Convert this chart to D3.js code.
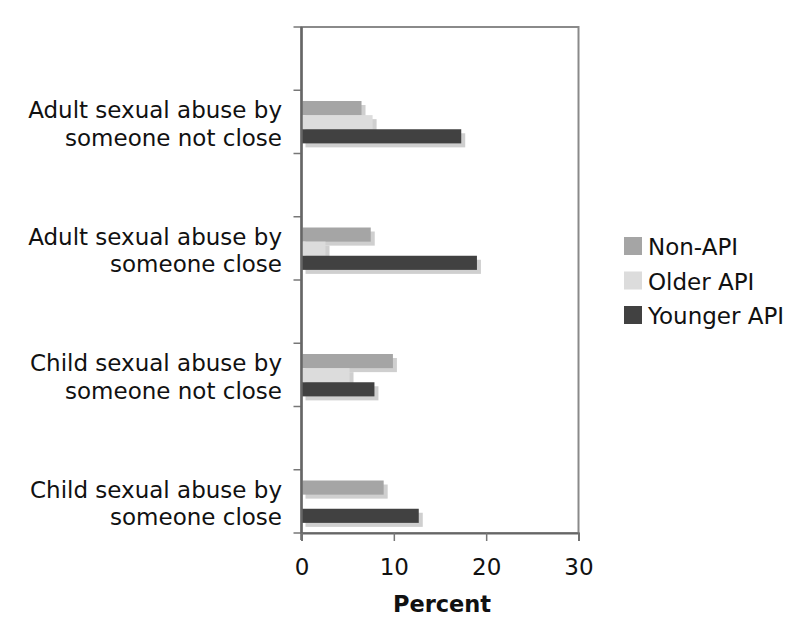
<!DOCTYPE html>
<html>
<head>
<meta charset="utf-8">
<script src="https://cdn.jsdelivr.net/npm/d3@7"></script>
<style>
  html, body { margin: 0; padding: 0; background: #fff; }
  svg text { font-family: Verdana, "DejaVu Sans", sans-serif; fill: #111; }
</style>
</head>
<body>
<svg id="chart" width="794" height="639"></svg>
<script>
// Categories, top to bottom
const categories = [
  ["Adult sexual abuse by", "someone not close"],
  ["Adult sexual abuse by", "someone close"],
  ["Child sexual abuse by", "someone not close"],
  ["Child sexual abuse by", "someone close"]
];
const series = ["Non-API", "Older API", "Younger API"];
const nonAPI     = [6.5, 7.5, 9.9, 8.9];
const olderAPI   = [7.7, 2.6, 5.2, 0];
const youngerAPI = [17.3, 19.0, 7.9, 12.7];
const xTicks = [0, 10, 20, 30];
const colors = ["#a5a5a5", "#dcdcdc", "#414141"];
const shadowColor = "#cfcfcf";

const values = [nonAPI, olderAPI, youngerAPI];
const catKeys = categories.map(c => c.join(" "));

const svg = d3.select("#chart");
const plot = { left: 301.5, right: 578.5, top: 27, bottom: 533 };
const fontSize = 23;

const x = d3.scaleLinear().domain([0, 30]).range([plot.left, plot.right]);
const y = d3.scaleBand().domain(catKeys).range([plot.top, plot.bottom]).padding(0);
const bw = y.bandwidth();
const yInner = d3.scaleBand().domain(series).range([bw * 0.585, bw * 0.92]).padding(0);

// Frame
svg.append("rect")
  .attr("x", plot.left).attr("y", plot.top)
  .attr("width", plot.right - plot.left).attr("height", plot.bottom - plot.top)
  .attr("fill", "none").attr("stroke", "#8a8a8a").attr("stroke-width", 2);

// Bars with drop shadows
const rows = [];
catKeys.forEach((c, i) => series.forEach((s, j) => rows.push({ c, s, v: values[j][i], j })));

const g = svg.append("g");
g.selectAll("rect.shadow").data(rows.filter(d => d.v > 0)).join("rect")
  .attr("class", "shadow")
  .attr("x", x(0) + 4)
  .attr("y", d => y(d.c) + yInner(d.s) + 4)
  .attr("width", d => x(d.v) - x(0))
  .attr("height", yInner.bandwidth())
  .attr("fill", shadowColor);
g.selectAll("rect.bar").data(rows.filter(d => d.v > 0)).join("rect")
  .attr("class", "bar")
  .attr("x", x(0))
  .attr("y", d => y(d.c) + yInner(d.s))
  .attr("width", d => x(d.v) - x(0))
  .attr("height", yInner.bandwidth())
  .attr("fill", d => colors[d.j]);

// Left axis: ticks at category edges and midpoints
const yTickPos = [];
catKeys.forEach(c => { yTickPos.push(y(c)); yTickPos.push(y(c) + bw / 2); });
yTickPos.push(plot.bottom);
svg.append("g").selectAll("line").data(yTickPos).join("line")
  .attr("x1", plot.left - 8).attr("x2", plot.left)
  .attr("y1", d => d).attr("y2", d => d)
  .attr("stroke", "#777").attr("stroke-width", 1.5);
svg.append("line")
  .attr("x1", plot.left).attr("x2", plot.left).attr("y1", plot.top).attr("y2", plot.bottom + 7)
  .attr("stroke", "#666").attr("stroke-width", 2.5);

// Category labels
const labels = svg.append("g").selectAll("text").data(categories).join("text")
  .attr("text-anchor", "end")
  .attr("font-size", fontSize);
labels.each(function(d, i) {
  const t = d3.select(this);
  const c = catKeys[i];
  const mid = y(c) + (yInner.range()[0] + yInner.range()[1]) / 2;
  d.forEach((line, k) => {
    t.append("tspan").attr("x", 282).attr("y", mid - 4 + k * 27.5).text(line);
  });
});

// Bottom axis
const xAxis = d3.axisBottom(x).tickValues(xTicks).tickSize(8).tickPadding(0).tickFormat(d3.format("d"));
const xg = svg.append("g").attr("transform", `translate(0,${plot.bottom})`).call(xAxis);
xg.select(".domain").attr("stroke", "#666").attr("stroke-width", 2);
xg.selectAll(".tick line").attr("stroke", "#777").attr("stroke-width", 1.5);
xg.selectAll(".tick text")
  .attr("y", 42).attr("dy", null)
  .attr("font-size", fontSize).attr("fill", "#111")
  .attr("font-family", "Verdana, 'DejaVu Sans', sans-serif");

svg.append("text")
  .attr("x", (plot.left + plot.right) / 2 + 2).attr("y", 612)
  .attr("text-anchor", "middle").attr("font-size", 22.5).attr("font-weight", "bold")
  .text("Percent");

// Legend
const legend = svg.append("g").attr("transform", "translate(624,237)");
const li = legend.selectAll("g").data(series).join("g")
  .attr("transform", (d, i) => `translate(0,${i * 34.5})`);
li.append("rect").attr("width", 18).attr("height", 18).attr("fill", (d, i) => colors[i]);
li.append("text").attr("x", 24).attr("y", 18).attr("font-size", fontSize).text(d => d);
</script>
</body>
</html>
